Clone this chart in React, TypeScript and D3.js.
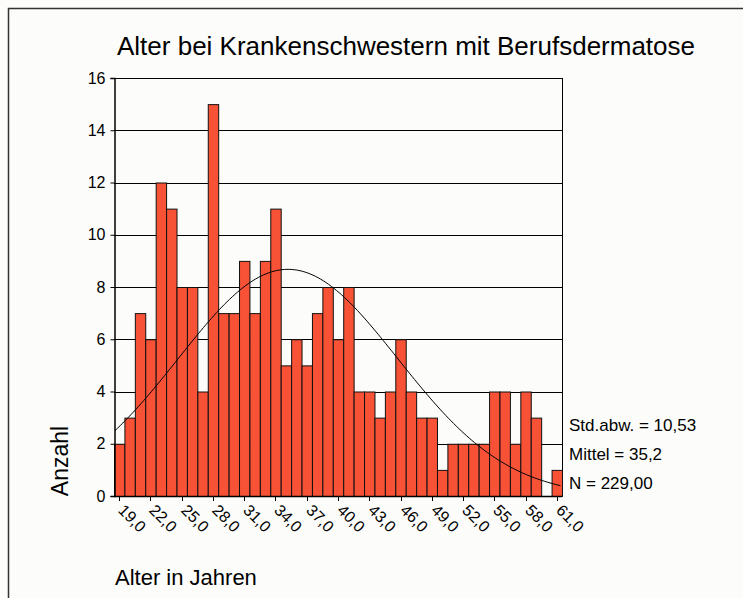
import { useEffect, useRef } from 'react';
import * as d3 from 'd3';

// Altersklassen (Balkenmitten) und Häufigkeiten
const ages = [19, 20, 21, 22, 23, 24, 25, 26, 27, 28, 29, 30, 31, 32, 33, 34, 35, 36, 37, 38, 39, 40,
  41, 42, 43, 44, 45, 46, 47, 48, 49, 50, 51, 52, 53, 54, 55, 56, 57, 58, 59, 60, 61];
const counts = [2, 3, 7, 6, 12, 11, 8, 8, 4, 15, 7, 7, 9, 7, 9, 11, 5, 6, 5, 7, 8, 6,
  8, 4, 4, 3, 4, 6, 4, 3, 3, 1, 2, 2, 2, 2, 4, 4, 2, 4, 3, 0, 1];

const xTicks = [19, 22, 25, 28, 31, 34, 37, 40, 43, 46, 49, 52, 55, 58, 61];
const xTickLabels = ['19,0', '22,0', '25,0', '28,0', '31,0', '34,0', '37,0', '40,0', '43,0', '46,0',
  '49,0', '52,0', '55,0', '58,0', '61,0'];
const yTicks = [0, 2, 4, 6, 8, 10, 12, 14, 16];

// Kennwerte (für die Normalverteilungskurve)
const MEAN = 35.2;
const SD = 10.53;
const N = 229;
const statLines = ['Std.abw. = 10,53', 'Mittel = 35,2', 'N = 229,00'];

const FONT = '"Liberation Sans", Arial, sans-serif';

const App = () => {
  const ref = useRef<SVGSVGElement | null>(null);

  useEffect(() => {
    if (!ref.current) return;
    const svg = d3.select(ref.current);
    svg.selectAll('*').remove();

    const width = 743;
    const height = 598;

    svg.append('rect').attr('width', width).attr('height', height).attr('fill', '#fcfcfa');

    // Rahmen (nur oben und links sichtbar)
    svg.append('rect')
      .attr('x', 8.5).attr('y', 8.5).attr('width', width + 20).attr('height', height + 20)
      .attr('fill', 'none').attr('stroke', '#333').attr('stroke-width', 1.5);

    const x = d3.scaleLinear().domain([18.5, 61.5]).range([114, 562]);
    const y = d3.scaleLinear().domain([0, 16]).range([496, 78]);
    const bw = x(1) - x(0);

    // Gitterlinien
    svg.append('g').selectAll('line').data(yTicks).join('line')
      .attr('x1', x(18.5)).attr('x2', x(61.5))
      .attr('y1', (d) => Math.round(y(d)) + 0.5).attr('y2', (d) => Math.round(y(d)) + 0.5)
      .attr('stroke', '#000').attr('stroke-width', 1);

    // rechter Rand
    svg.append('line')
      .attr('x1', x(61.5) + 0.5).attr('x2', x(61.5) + 0.5)
      .attr('y1', y(16)).attr('y2', y(0))
      .attr('stroke', '#000');

    // Balken
    svg.append('g').selectAll('rect').data(ages.map((a, i) => ({ a, c: counts[i] })).filter((d) => d.c > 0))
      .join('rect')
      .attr('x', (d) => x(d.a - 0.5) + 0.5)
      .attr('y', (d) => y(d.c) + 0.5)
      .attr('width', bw)
      .attr('height', (d) => y(0) - y(d.c))
      .attr('fill', '#f75236')
      .attr('stroke', '#111')
      .attr('stroke-width', 1);

    // Normalverteilungskurve
    const pts = d3.range(18.6, 61.5, 0.25).map((k) => {
      const z = (k - MEAN) / SD;
      return [k, (N / (SD * Math.sqrt(2 * Math.PI))) * Math.exp(-0.5 * z * z)] as [number, number];
    });
    svg.append('path').datum(pts)
      .attr('d', d3.line().x((d) => x(d[0])).y((d) => y(d[1])))
      .attr('fill', 'none').attr('stroke', '#000').attr('stroke-width', 1);

    // Y-Achse
    const yAxis = svg.append('g').attr('transform', `translate(${x(18.5) + 0.5},0)`)
      .call(d3.axisLeft(y).tickValues(yTicks).tickSize(4).tickPadding(5).tickFormat((d) => String(d)));
    yAxis.select('.domain').attr('stroke', '#000').attr('stroke-width', 1.5);
    yAxis.selectAll('.tick line').attr('stroke', '#000');
    yAxis.selectAll('text').attr('font-family', FONT).attr('font-size', 16).attr('fill', '#000');

    // X-Achse
    svg.append('line')
      .attr('x1', x(18.5)).attr('x2', x(61.5))
      .attr('y1', y(0) + 0.5).attr('y2', y(0) + 0.5)
      .attr('stroke', '#000').attr('stroke-width', 1.5);

    const xt = svg.append('g').selectAll('g').data(xTicks).join('g')
      .attr('transform', (d) => `translate(${Math.round(x(d)) + 0.5},${y(0)})`);
    xt.append('line').attr('y1', 0).attr('y2', 5).attr('stroke', '#000');
    xt.append('text')
      .attr('transform', 'translate(6,7) rotate(45)')
      .attr('dy', '0.72em')
      .attr('font-family', FONT).attr('font-size', 16).attr('fill', '#000')
      .text((d, i) => xTickLabels[i]);

    // Titel und Achsentitel
    svg.append('text')
      .attr('x', 406).attr('y', 55).attr('text-anchor', 'middle')
      .attr('font-family', FONT).attr('font-size', 26).attr('fill', '#000')
      .text('Alter bei Krankenschwestern mit Berufsdermatose');

    svg.append('text')
      .attr('transform', 'translate(68,461) rotate(-90)').attr('text-anchor', 'middle')
      .attr('font-family', FONT).attr('font-size', 23).attr('fill', '#000')
      .text('Anzahl');

    svg.append('text')
      .attr('x', 115).attr('y', 585)
      .attr('font-family', FONT).attr('font-size', 22).attr('fill', '#000')
      .text('Alter in Jahren');

    // Kennwerte
    svg.append('g').selectAll('text').data(statLines).join('text')
      .attr('x', 569).attr('y', (d, i) => 431 + i * 29)
      .attr('font-family', FONT).attr('font-size', 17).attr('fill', '#000')
      .text((d) => d);
  }, []);

  return (
    <div style={{ position: 'absolute', left: 0, top: 0 }}>
      <svg ref={ref} width={743} height={598} style={{ display: 'block' }} />
    </div>
  );
};

export default App;
